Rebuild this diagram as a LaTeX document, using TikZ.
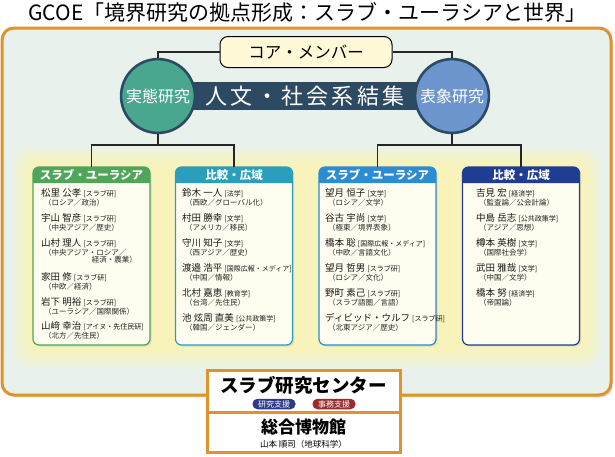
\documentclass[tikz,border=0pt]{standalone}
\usepackage{fontspec}
\setmainfont{Noto Sans CJK JP}
\newfontfamily\widejp[LetterSpace=15]{Noto Sans CJK JP}
\usetikzlibrary{shadows}
\definecolor{bgmint}{HTML}{E8F1EC}
\definecolor{frameor}{HTML}{E0922B}
\definecolor{corecream}{HTML}{FFF9D8}
\definecolor{tealc}{HTML}{4AA78F}
\definecolor{skyc}{HTML}{6C94CD}
\definecolor{navy}{HTML}{2C4B63}
\definecolor{cgreen}{HTML}{4FA65B}
\definecolor{cteal}{HTML}{2A9EBD}
\definecolor{cblue}{HTML}{2B8CD6}
\definecolor{cdark}{HTML}{1F3D94}
\definecolor{bodycream}{HTML}{FFFDF0}
\definecolor{glowy}{HTML}{FFF8B0}
\definecolor{badgeblue}{HTML}{2D3B89}
\definecolor{badgered}{HTML}{9A2C2F}
\tikzset{
  colbody/.style={draw=#1, fill=bodycream, line width=1.2pt, rounded corners=6pt,
    minimum width=117, minimum height=178,
    drop shadow={opacity=0.2, shadow xshift=1.5pt, shadow yshift=-1.5pt}},
  colhead/.style={text=white, minimum width=117, minimum height=16, inner sep=0pt,
    font=\fontsize{11.5}{12}\selectfont\bfseries},
  nm/.style={anchor=west, inner sep=0pt, text=black!90},
  sb/.style={anchor=west, inner sep=0pt, text=black!85, font=\fontsize{7.5}{8}\selectfont},
  ring/.style={circle, draw=navy, line width=2.6pt, fill=#1, minimum size=73,
    text=white, font=\fontsize{16}{16}\selectfont},
  orbox/.style={draw=frameor, line width=3pt, fill=white, minimum width=193},
  badge/.style={fill=#1, text=white, rounded corners=5pt, minimum width=43,
    minimum height=10.5, inner sep=0pt, font=\fontsize{8}{8}\selectfont},
  tree/.style={draw=black!85, line width=1.7pt}
}
\begin{document}
\begin{tikzpicture}[x=1pt, y=-1pt, font=\fontsize{9.5}{10}\selectfont]
  \useasboundingbox (0,0) rectangle (615,456);
  \node (title) at (307.5,12) {\fontsize{21}{21}\selectfont GCOE「境界研究の拠点形成：スラブ・ユーラシアと世界」};
  \draw[frameor, line width=3pt, fill=bgmint, rounded corners=12pt,
    drop shadow={opacity=0.25, shadow xshift=2pt, shadow yshift=-2.5pt}] (2,28) rectangle (611,395);
  \foreach \k in {0,...,7}
    \fill[glowy, opacity=0.17, rounded corners=16pt] ({13+\k*2.5},{148+\k*2.5}) rectangle ({601-\k*2.5},{367-\k*2.5});

  \node[draw=black, line width=1pt, fill=corecream, rounded corners=8pt, minimum width=172,
    minimum height=31, font=\fontsize{16.5}{17}\selectfont] (core) at (306,52) {コア・メンバー};
  \node[fill=navy, minimum width=294, minimum height=28, inner sep=0pt, text=white] (band) at (305,96)
    {\widejp\fontsize{22}{22}\selectfont 人文・社会系結集};
  \node[ring=tealc] (lc) at (158,96) {実態研究};
  \node[ring=skyc] (rc) at (452,96) {表象研究};
  \draw[black!85, line width=1.4pt] (core.west) -| (lc.north);
  \draw[black!85, line width=1.4pt] (core.east) -| (rc.north);

  \foreach \c/\x/\col/\hd in {1/91.5/cgreen/スラブ・ユーラシア, 2/234/cteal/比較・広域, 3/377.5/cblue/スラブ・ユーラシア, 4/521/cdark/比較・広域}{
    \node[colbody=\col] (b\c) at (\x,256) {};
    \fill[\col] (\x-58.5,183) [rounded corners=6pt] -- (\x-58.5,167) -- (\x+58.5,167) [sharp corners] -- (\x+58.5,183) -- cycle;
    \node[colhead] (h\c) at (\x,175) {\hd};
  }
  \draw[tree] (lc.south) -- ++(0,11) coordinate (lj);
  \draw[tree] (h1.north) |- (lj) -| (h2.north);
  \draw[tree] (rc.south) -- ++(0,11) coordinate (rj);
  \draw[tree] (h3.north) |- (rj) -| (h4.north);

  \foreach \y/\nm/\af/\sb [count=\i] in {193/松里 公孝/スラブ研/（ロシア／政治）, 218/宇山 智彦/スラブ研/（中央アジア／歴史）, 243/山村 理人/スラブ研/（中央アジア・ロシア／, 277/家田 修/スラブ研/（中欧／経済）, 302/岩下 明裕/スラブ研/（ユーラシア／国際関係）, 326/山﨑 幸治/アイヌ・先住民研/（北方／先住民）}{
    \node[nm] (a\i) at (41,\y) {\nm\ {\fontsize{7}{7}\selectfont[\af]}};
    \node[sb] (as\i) at (44,\y+10) {\sb};
  }
  \node[sb, anchor=east] (as3b) at (137,260) {経済・農業）};
  \foreach \y/\nm/\af/\sb [count=\i] in {193/鈴木 一人/法学/（西欧／グローバル化）, 218/村田 勝幸/文学/（アメリカ／移民）, 243/守川 知子/文学/（西アジア／歴史）, 268/渡邉 浩平/国際広報・メディア/（中国／情報）, 293/北村 嘉恵/教育学/（台湾／先住民）, 318/池 炫周 直美/公共政策学/（韓国／ジェンダー）}{
    \node[nm] (b\i) at (182,\y) {\nm\ {\fontsize{7}{7}\selectfont[\af]}};
    \node[sb] (bs\i) at (185,\y+10) {\sb};
  }
  \foreach \y/\nm/\af/\sb [count=\i] in {193/望月 恒子/文学/（ロシア／文学）, 218/谷古 宇尚/文学/（極東／境界表象）, 243/橋本 聡/国際広報・メディア/（中欧／言語文化）, 268/望月 哲男/スラブ研/（ロシア／文化）, 293/野町 素己/スラブ研/（スラブ語圏／言語）, 318/ディビッド・ウルフ/スラブ研/（北東アジア／歴史）}{
    \node[nm] (c\i) at (325,\y) {\nm\ {\fontsize{7}{7}\selectfont[\af]}};
    \node[sb] (cs\i) at (328,\y+10) {\sb};
  }
  \foreach \y/\nm/\af/\sb [count=\i] in {193/吉見 宏/経済学/（監査論／公会計論）, 218/中島 岳志/公共政策学/（アジア／思想）, 243/樽本 英樹/文学/（国際社会学）, 268/武田 雅哉/文学/（中国／文学）, 293/橋本 努/経済学/（帝国論）}{
    \node[nm] (d\i) at (476,\y) {\nm\ {\fontsize{7}{7}\selectfont[\af]}};
    \node[sb] (ds\i) at (479,\y+10) {\sb};
  }

  \node[orbox, minimum height=40] (museum) at (303.5,432) {};
  \node[orbox, minimum height=42] (src) at (303.5,391) {};
  \node[font=\fontsize{18.5}{19}\selectfont\bfseries] (srct) at (303.5,385) {スラブ研究センター};
  \node[badge=badgeblue] (sup1) at (274,404) {研究支援};
  \node[badge=badgered] (sup2) at (334,404) {事務支援};
  \node[font=\fontsize{17}{17}\selectfont\bfseries] (must) at (303.5,427) {総合博物館};
  \node[font=\fontsize{8.5}{9}\selectfont] (musn) at (303.5,444) {山本 順司（地球科学）};
\end{tikzpicture}
\end{document}
